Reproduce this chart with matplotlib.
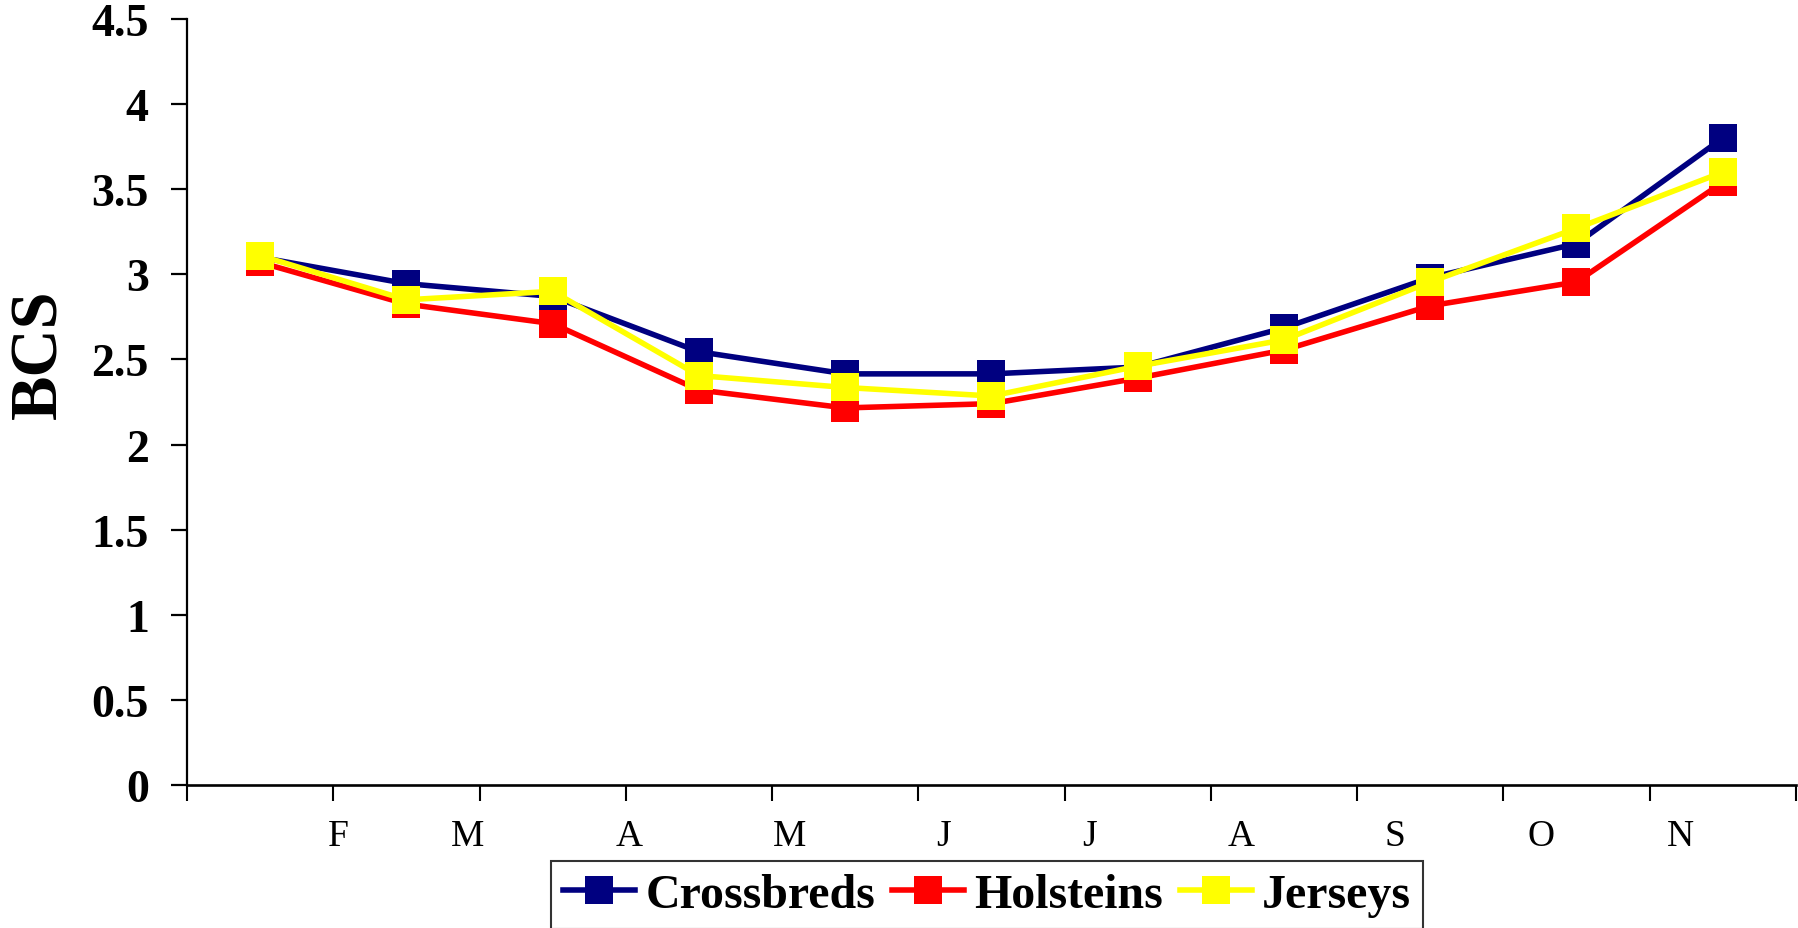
import numpy as np
import matplotlib
matplotlib.use("Agg")
import matplotlib.pyplot as plt

# ---- data ----
months = ["F", "M", "A", "M", "J", "J", "A", "S", "O", "N"]
series_names = ["Crossbreds", "Holsteins", "Jerseys"]
crossbreds = [3.10, 2.945, 2.87, 2.545, 2.415, 2.415, 2.455, 2.685, 2.98, 3.18, 3.80]
holsteins = [3.07, 2.825, 2.71, 2.32, 2.215, 2.24, 2.39, 2.555, 2.815, 2.955, 3.54]
jerseys = [3.11, 2.85, 2.90, 2.405, 2.335, 2.285, 2.46, 2.615, 2.955, 3.27, 3.60]
y_ticks = [0, 0.5, 1, 1.5, 2, 2.5, 3, 3.5, 4, 4.5]
y_tick_labels = ["0", "0.5", "1", "1.5", "2", "2.5", "3", "3.5", "4", "4.5"]

# layout (not data): where the month labels sit along the category axis
label_pos = [0.533, 1.42, 2.52, 3.62, 4.675, 5.67, 6.71, 7.76, 8.76, 9.71]
colors = ["#000080", "#FF0000", "#FFFF00"]

plt.rcParams["font.family"] = ["Liberation Serif", "DejaVu Serif"]

fig = plt.figure(figsize=(17.98, 9.29), dpi=100)
ax = fig.add_axes([0.104, 0.154, 0.8948, 0.8245])

x = np.arange(len(crossbreds))
for vals, name, c in zip([crossbreds, holsteins, jerseys], series_names, colors):
    ax.plot(x, vals, color=c, lw=4.0, marker="s", markersize=19.5,
            markeredgewidth=0, label=name, solid_joinstyle="miter")

ax.set_xlim(-0.5, len(crossbreds) - 0.5)
ax.set_ylim(0, 4.5)

ax.set_xticks(np.arange(-0.5, len(crossbreds), 1.0))
ax.set_xticklabels([])
ax.set_xticks(label_pos, labels=months, minor=True)
ax.tick_params(axis="x", which="major", direction="out", length=11.5, width=1.5, color="black")
ax.tick_params(axis="x", which="minor", length=0, pad=24.5, labelsize=27)

ax.set_yticks(y_ticks)
ax.set_yticklabels(y_tick_labels, fontweight="bold")
ax.tick_params(axis="y", direction="out", length=11.5, width=1.6, pad=16, labelsize=33)

for s in ["top", "right"]:
    ax.spines[s].set_visible(False)
ax.spines["left"].set_linewidth(1.6)
ax.spines["bottom"].set_linewidth(1.9)

fig.text(40 / 1798, 1 - 354 / 929, "BCS", rotation=90, ha="center", va="center",
         fontsize=48, fontweight="bold")

leg = fig.legend(loc="upper left", bbox_to_anchor=(551 / 1798, 1 - 862 / 929),
                 ncol=3, frameon=True, fancybox=False, borderaxespad=0,
                 prop={"family": "Liberation Serif", "weight": "bold", "size": 34.5},
                 handlelength=1.5, handletextpad=0.22, columnspacing=0.35,
                 borderpad=0.25, numpoints=1)
leg.get_frame().set_edgecolor("black")
leg.get_frame().set_linewidth(1.5)

fig.savefig("out.png", dpi=100)
